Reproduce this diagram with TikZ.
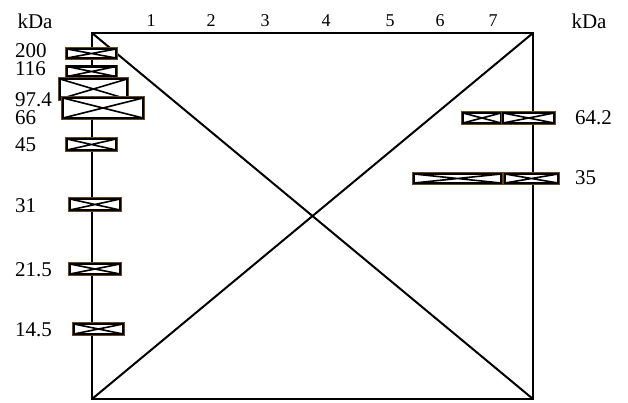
\documentclass[tikz,border=0pt]{standalone}
\usepackage{fontspec}
\setmainfont{Liberation Serif}
\usetikzlibrary{positioning}

\begin{document}
\begin{tikzpicture}[x=1pt, y=-1pt, line join=miter,
    band/.style={draw=black, fill=white, line width=2.3pt, inner sep=0pt, outer sep=0pt,
      preaction={draw=brown!55!black, line width=3.1pt}},
    cross/.style={line width=1.6pt},
    side/.style={inner sep=0pt, font=\fontsize{21}{24}\selectfont},
    lane/.style={inner sep=0pt, font=\fontsize{18}{22}\selectfont}]
  \useasboundingbox (0,0) rectangle (628,402);

  % Frame with its diagonals
  \coordinate (tl) at (92,33);
  \coordinate (tr) at (533,33);
  \coordinate (br) at (533,399);
  \coordinate (bl) at (92,399);
  \draw[line width=2.5pt] (tl) -- (tr) -- (br) -- (bl) -- cycle;
  \draw[line width=2pt] (tl) -- (br) (bl) -- (tr);

  % Lane numbers
  \node[side] (kdaL) at (35,21) {kDa};
  \node[side] (kdaR) at (589,21) {kDa};
  \foreach \n/\x in {1/151, 2/211, 3/265, 4/326, 5/390, 6/440, 7/493}
    \node[lane] (lane\n) at (\x,21) {\n};

  % Marker bands (left) and sample bands (right)
  \foreach \name/\x/\y/\w/\h in {
      b200/91.5/53.5/49/9, b116/91.5/71.5/49/10, b974/93.5/89/67/20,
      b66/103/108/80/20, b45/91.5/144.5/49/11, b31/95/204.5/50/11,
      b215/95/269/50/10, b145/98.5/329/49/10,
      b642a/482/118/38/10, b642b/528.5/118/51/10,
      b35a/457.5/178.5/87/9, b35b/531.5/178.5/53/9}{
    \node[band, minimum width=\w pt, minimum height=\h pt] (\name) at (\x,\y) {};
    \draw[cross] (\name.north west) -- (\name.south east)
                 (\name.south west) -- (\name.north east);
  }

  % Marker sizes
  \foreach \t/\y in {200/51, 116/69, 97.4/100, 66/118, 45/145, 31/206, 21.5/270, 14.5/330}
    \node[side, anchor=west] (m\y) at (15,\y) {\t};
  \node[side, anchor=west] (s642) at (575,118) {64.2};
  \node[side, anchor=west] (s35) at (575,178) {35};
\end{tikzpicture}
\end{document}
